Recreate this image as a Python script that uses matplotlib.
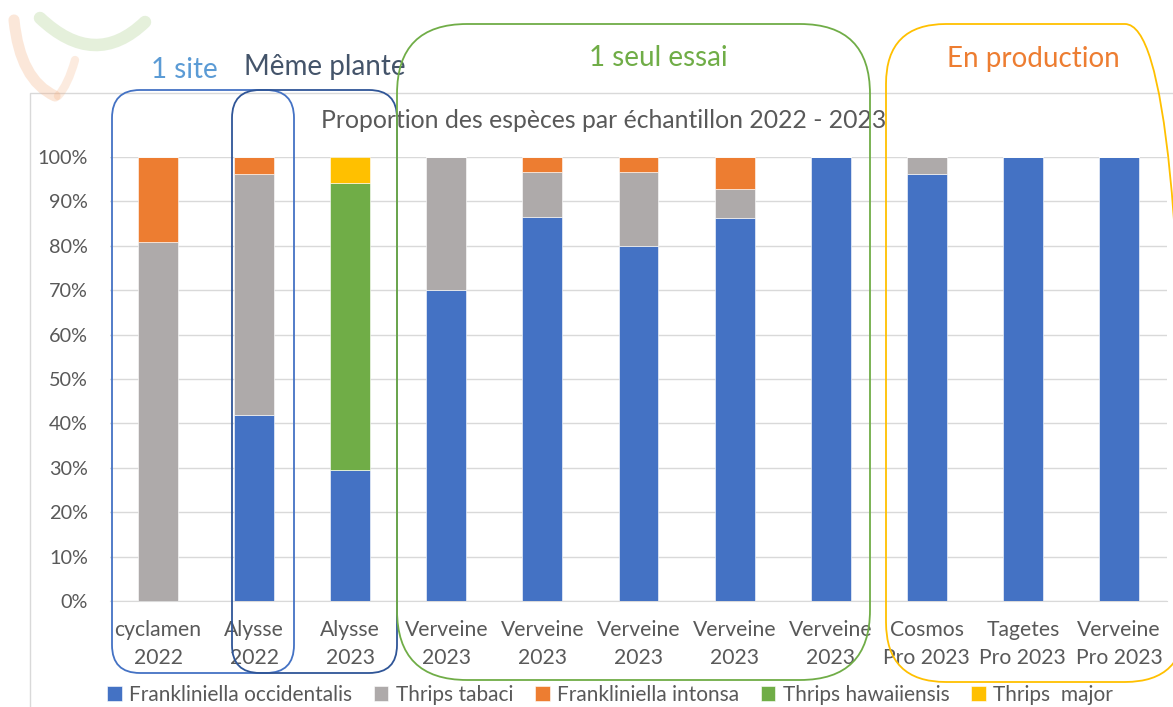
import matplotlib
matplotlib.use("Agg")
import matplotlib.pyplot as plt
from matplotlib.patches import FancyBboxPatch, PathPatch
from matplotlib.path import Path
from matplotlib.transforms import IdentityTransform

plt.rcParams['font.family'] = ['Lato', 'DejaVu Sans']

categories = ["cyclamen\n2022", "Alysse\n2022", "Alysse\n2023", "Verveine\n2023", "Verveine\n2023",
              "Verveine\n2023", "Verveine\n2023", "Verveine\n2023", "Cosmos\nPro 2023",
              "Tagetes\nPro 2023", "Verveine\nPro 2023"]
occidentalis = [0, 42.0, 29.4, 70.0, 86.5, 80.0, 86.2, 100, 96.2, 100, 100]
tabaci       = [80.8, 54.2, 0, 30.0, 10.1, 16.6, 6.7, 0, 3.8, 0, 0]
intonsa      = [19.2, 3.8, 0, 0, 3.4, 3.4, 7.1, 0, 0, 0, 0]
hawaiiensis  = [0, 0, 64.7, 0, 0, 0, 0, 0, 0, 0, 0]
major        = [0, 0, 5.9, 0, 0, 0, 0, 0, 0, 0, 0]
series_names = ["Frankliniella occidentalis", "Thrips tabaci", "Frankliniella intonsa",
                "Thrips hawaiiensis", "Thrips  major"]
colors = ["#4472C4", "#AEAAAA", "#ED7D31", "#70AD47", "#FFC000"]

W, H = 1173, 707
fig = plt.figure(figsize=(W / 100, H / 100), dpi=100)
fig.patch.set_facecolor("white")

def px(x0, y0, x1, y1):
    return [x0 / W, 1 - y1 / H, (x1 - x0) / W, (y1 - y0) / H]

# chart frame
frame = FancyBboxPatch((30, H - 712), 1160, 712 - 93, boxstyle="square,pad=0",
                       transform=IdentityTransform(), fill=False, edgecolor="#D9D9D9", lw=1)
fig.add_artist(frame)

ax = fig.add_axes(px(110, 157, 1167, 601))
x = list(range(len(categories)))
bottom = [0] * len(categories)
for vals, name, c in zip([occidentalis, tabaci, intonsa, hawaiiensis, major], series_names, colors):
    ax.bar(x, vals, width=0.415, bottom=bottom, color=c, label=name, zorder=3,
           edgecolor="white", linewidth=0.4)
    bottom = [b + v for b, v in zip(bottom, vals)]

ax.set_xlim(-0.5, len(categories) - 0.5)
ax.set_ylim(0, 100)
ax.set_yticks(range(0, 101, 10))
ax.set_yticklabels([f"{v}%" for v in range(0, 101, 10)])
ax.set_xticks(x)
ax.set_xticklabels(categories, linespacing=1.45)
ax.tick_params(axis="both", length=0, labelcolor="#595959")
ax.tick_params(axis="y", pad=16, labelsize=14.3)
ax.tick_params(axis="x", pad=14, labelsize=15.2)
ax.grid(axis="y", color="#D9D9D9", lw=1, zorder=0)
for s in ["top", "right", "left"]:
    ax.spines[s].set_visible(False)
ax.spines["bottom"].set_color("#D9D9D9")
ax.set_facecolor("none")

fig.text(604 / W, 1 - 121 / H, "Proportion des espèces par échantillon 2022 - 2023",
         ha="center", va="center", fontsize=17.8, color="#595959")

handles, labels = ax.get_legend_handles_labels()
fig.legend(handles, labels, loc="center", bbox_to_anchor=(610 / W, 1 - 695 / H), ncol=5,
           frameon=False, fontsize=15, handlelength=0.7, handleheight=0.7,
           handletextpad=0.35, columnspacing=1.05, labelcolor="#595959")

# faint logo
def stroke(verts, color, lw, alpha):
    codes = [Path.MOVETO] + [Path.CURVE3] * (len(verts) - 1)
    p = Path([(vx, H - vy) for vx, vy in verts], codes)
    fig.add_artist(PathPatch(p, transform=IdentityTransform(), fill=False, edgecolor=color,
                             lw=lw, alpha=alpha, capstyle="round"))

stroke([(40, 18), (95, 70), (145, 22)], "#A9CF8A", 9, 0.3)
stroke([(14, 20), (20, 80), (55, 96)], "#F4B183", 8, 0.3)
stroke([(75, 60), (68, 85), (58, 96)], "#F4B183", 6, 0.25)

# annotation boxes
def rbox(x0, y0, x1, y1, color, r, lw=1.3):
    b = FancyBboxPatch((x0 + r, H - y1 + r), (x1 - x0) - 2 * r, (y1 - y0) - 2 * r,
                       boxstyle=f"round,pad={r},rounding_size={r}",
                       transform=IdentityTransform(), fill=False, edgecolor=color, lw=lw, zorder=10)
    fig.add_artist(b)

rbox(112, 90, 294, 673, "#4472C4", 28)
rbox(232, 90, 397, 673, "#2F5597", 28)
rbox(397, 24, 870, 680, "#70AD47", 70)
rbox(886, 24, 1185, 682, "#FFC000", 60)

fig.text(184 / W, 1 - 70 / H, "1 site", ha="center", va="center", fontsize=20, color="#5B9BD5")
fig.text(325 / W, 1 - 67 / H, "Même plante", ha="center", va="center", fontsize=20, color="#44546A")
fig.text(658 / W, 1 - 58 / H, "1 seul essai", ha="center", va="center", fontsize=20, color="#70AD47")
fig.text(1033 / W, 1 - 59 / H, "En production", ha="center", va="center", fontsize=20, color="#ED7D31")

fig.savefig("out.png", dpi=100)
